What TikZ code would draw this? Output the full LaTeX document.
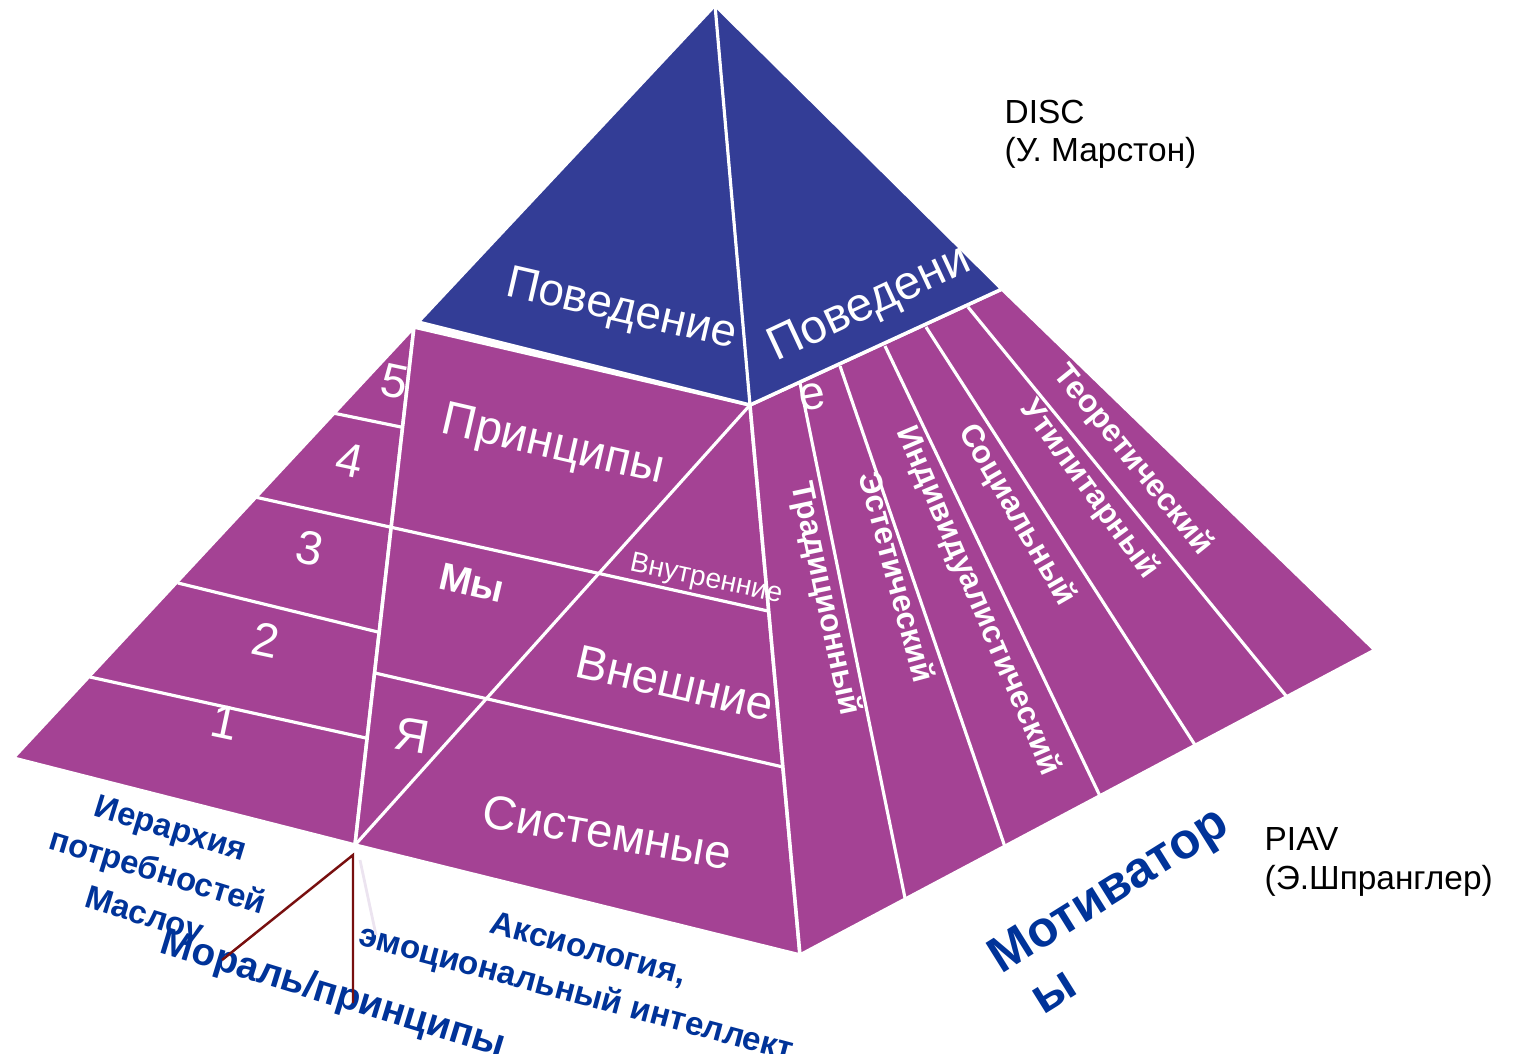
\documentclass[tikz,border=0pt]{standalone}
\usepackage{fontspec}
\setmainfont{Liberation Sans}
\usetikzlibrary{calc}
\definecolor{pyrblue}{RGB}{51,61,150}
\definecolor{pyrpurple}{RGB}{164,66,148}
\definecolor{labelblue}{RGB}{0,51,153}
\definecolor{pointer}{RGB}{120,15,15}
\definecolor{faintline}{RGB}{236,228,240}
\newcommand{\facefont}{\fontsize{13.5}{16}\selectfont}

\tikzset{
  face/.style={fill=pyrpurple, draw=white, line width=1pt, line join=round},
  topface/.style={fill=pyrblue, draw=white, line width=1pt, line join=round},
  divider/.style={draw=white, line width=0.9pt},
  facetext/.style={text=white, inner sep=0pt},
  motive/.style={text=white, inner sep=0pt, font=\fontsize{9}{11}\selectfont\bfseries},
  sidelabel/.style={text=labelblue, align=center, inner sep=0pt},
  note/.style={text=black, align=left, inner sep=0pt, font=\fontsize{9.5}{11}\selectfont}
}

\begin{document}
\begin{tikzpicture}[x=0.01cm, y=-0.01cm]
  \useasboundingbox (0,0) rectangle (1514,1053);
  % corners of the pyramid
  \coordinate (apex) at (715,5);
  \coordinate (blueL) at (418,322);
  \coordinate (blueR) at (1002,289);
  \coordinate (mid) at (750,405);
  \coordinate (sepTop) at (414,327);
  \coordinate (leftC) at (13,758);
  \coordinate (base) at (355,845);
  \coordinate (frontC) at (800,955);
  \coordinate (rightC) at (1375,650);

  % faces
  \draw[face] (sepTop) -- (leftC) -- (base) -- cycle;
  \draw[face] (sepTop) -- (mid) -- (frontC) -- (base) -- cycle;
  \draw[face] (mid) -- (blueR) -- (rightC) -- (frontC) -- cycle;
  \draw[topface] (apex) -- (blueL) -- (mid) -- (blueR) -- cycle;
  \draw[divider] (apex) -- (mid);

  % Maslow levels
  \draw[divider] (333,413) -- (401,427);
  \draw[divider] (255,497) -- (768,611);
  \draw[divider] (178,583) -- (378,632);
  \draw[divider] (90,677) -- (366,738);
  \draw[divider] (375,673) -- (783,767);
  \draw[divider] (mid) -- (base);

  % motivator strips
  \draw[divider] (800,383) -- (905,898);
  \draw[divider] (840,366) -- (1005,847);
  \draw[divider] (885,346) -- (1100,796);
  \draw[divider] (926,327) -- (1195,745);
  \draw[divider] (968,307) -- (1287,697);

  % texts on the faces
  \node[facetext, font=\fontsize{13}{16}\selectfont, rotate=-13] (beh1) at (621,311) {Поведение};
  \node[facetext, font=\facefont, rotate=25] (beh2) at (870,305) {Поведени};
  \node[facetext, font=\facefont, rotate=10] (beh2e) at (812,397) {е};
  \node[facetext, font=\facefont, rotate=-13] (princ) at (553,447) {Принципы};
  \node[facetext, font=\fontsize{11}{13}\selectfont\bfseries, rotate=-13] (we) at (472,583) {Мы};
  \node[facetext, font=\facefont, rotate=-10] (me) at (412,735) {Я};
  \node[facetext, font=\fontsize{8}{10}\selectfont, rotate=-12] (inner) at (706,580) {Внутренние};
  \node[facetext, font=\facefont, rotate=-13] (outer) at (675,683) {Внешние};
  \node[facetext, font=\facefont, rotate=-10] (system) at (607,832) {Системные};
  \node[facetext, font=\facefont, rotate=-12] (lvl5) at (395,381) {5};
  \node[facetext, font=\facefont, rotate=-12] (lvl4) at (350,460) {4};
  \node[facetext, font=\facefont, rotate=-12] (lvl3) at (310,548) {3};
  \node[facetext, font=\facefont, rotate=-12] (lvl2) at (266,640) {2};
  \node[facetext, font=\facefont, rotate=-12] (lvl1) at (225,722) {1};

  \node[motive, rotate=-78] (trad) at (825,599) {Традиционный};
  \node[motive, rotate=-75] (aest) at (898,577) {Эстетический};
  \node[motive, rotate=-67] (indiv) at (978,601) {Индивидуалистический};
  \node[motive, rotate=-60] (social) at (1017,515) {Социальный};
  \node[motive, rotate=-54] (util) at (1089,489) {Утилитарный};
  \node[motive, rotate=-51] (theor) at (1133,460) {Теоретический};

  % labels round the pyramid
  \node[note, anchor=north west] (disc) at (1004,99) {DISC\\(У. Марстон)};
  \node[note, anchor=north west] (piav) at (1264,827) {PIAV\\(Э.Шпранглер)};
  \node[sidelabel, font=\fontsize{9.3}{12.8}\selectfont\bfseries, rotate=-17] (maslow) at (157,874) {Иерархия\\потребностей\\Маслоу};
  \node[sidelabel, font=\fontsize{11}{13}\selectfont\bfseries, rotate=-17] (moral) at (333,995) {Мораль/принципы};
  \node[sidelabel, font=\fontsize{9.4}{13}\selectfont\bfseries, rotate=-15] (axio) at (582,973) {Аксиология,\\эмоциональный интеллект};
  \node[sidelabel, font=\fontsize{14.3}{17}\selectfont\bfseries, rotate=32] (motiv) at (1110,893) {Мотиватор};
  \node[sidelabel, font=\fontsize{14.3}{17}\selectfont\bfseries, rotate=32] (motivy) at (1055,993) {ы};

  % pointers
  \coordinate (tip) at (353,855);
  \coordinate (tipL) at (222,960);
  \coordinate (tipD) at (353,1003);
  \coordinate (faintEnd) at (376,935);
  \draw[faintline, line width=0.8pt] (360,860) -- (faintEnd);
  \draw[pointer, line width=0.7pt] (tipL) -- (tip) -- (tipD);
\end{tikzpicture}
\end{document}
